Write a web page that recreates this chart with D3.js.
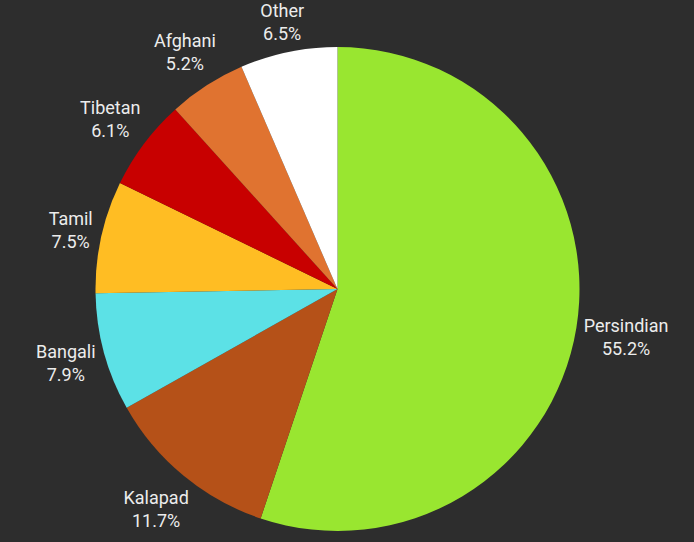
<!DOCTYPE html>
<html>
<head>
<meta charset="utf-8">
<script src="https://cdn.jsdelivr.net/npm/d3@7"></script>
<style>
  html, body { margin: 0; padding: 0; background: #2d2d2d; }
  svg { display: block; }
</style>
</head>
<body>
<div id="chart"></div>
<script>
// slice data, clockwise from 12 o'clock
var categories = ["Persindian", "Kalapad", "Bangali", "Tamil", "Tibetan", "Afghani", "Other"];
var shares = [55.2, 11.7, 7.9, 7.5, 6.1, 5.2, 6.5];
var colors = ["#99e630", "#b55118", "#5ce1e6", "#ffbd23", "#c80000", "#e07330", "#ffffff"];

var width = 694, height = 542;
var cx = 337.5, cy = 289, radius = 242;
var labelGap = 5; // space between the rim and the nearest edge of a label

var svg = d3.select("#chart").append("svg")
    .attr("width", width)
    .attr("height", height);

svg.append("rect").attr("width", width).attr("height", height).attr("fill", "#2d2d2d");

var data = categories.map(function (c, i) {
    return { name: c, value: shares[i], color: colors[i] };
});

var pie = d3.pie().sort(null).value(function (d) { return d.value; });
var arc = d3.arc().innerRadius(0).outerRadius(radius);

var g = svg.append("g").attr("transform", "translate(" + cx + "," + cy + ")");

var arcs = pie(data);

g.selectAll("path.slice")
    .data(arcs)
    .enter()
    .append("path")
    .attr("class", "slice")
    .attr("d", arc)
    .attr("fill", function (d) { return d.data.color; });

// labels: two lines, pushed out so the box sits just outside the rim
var lineH = 23;
var labels = g.selectAll("g.label")
    .data(arcs)
    .enter()
    .append("g")
    .attr("class", "label");

labels.each(function (d) {
    var lab = d3.select(this);
    var t = lab.append("text")
        .attr("text-anchor", "middle")
        .style("font-family", "Roboto, 'Noto Sans', sans-serif")
        .style("font-size", "18px")
        .attr("fill", "#ececec");
    t.append("tspan").attr("x", 0).attr("y", -lineH / 2 + 6).text(d.data.name);
    t.append("tspan").attr("x", 0).attr("y", lineH / 2 + 6).text(d3.format(".1f")(d.data.value) + "%");

    var box = t.node().getBBox();
    var mid = (d.startAngle + d.endAngle) / 2;
    var sx = Math.sin(mid), sy = -Math.cos(mid);
    var extent = box.width / 2 * Math.abs(sx) + box.height / 2 * Math.abs(sy);
    var r = radius + labelGap + extent;
    lab.attr("transform", "translate(" + (sx * r) + "," + (sy * r + 1) + ")");
});
</script>
</body>
</html>
